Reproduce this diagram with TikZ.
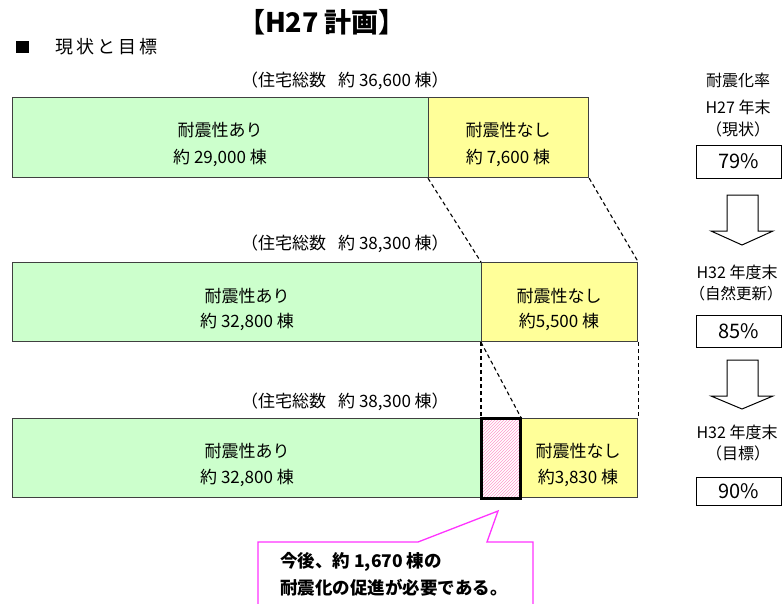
\documentclass[tikz,border=0pt]{standalone}
\usepackage{fontspec}
\setmainfont{Noto Sans CJK JP}
\usetikzlibrary{patterns}
\definecolor{okgreen}{HTML}{CCFFCC}
\definecolor{ngyellow}{HTML}{FFFF99}
\definecolor{callpink}{HTML}{FF33FF}
\begin{document}
\begin{tikzpicture}[x=1pt,y=-1pt,
  bar/.style={draw=black!75, line width=1.2pt, inner sep=0pt, anchor=north west},
  bartxt/.style={font=\fontsize{17}{18}\selectfont, inner sep=0pt},
  lbl/.style={font=\fontsize{17}{18}\selectfont, inner sep=0pt},
  rlbl/.style={font=\fontsize{16}{18}\selectfont, inner sep=0pt},
  pctbox/.style={draw=black, line width=1pt, inner sep=0pt, minimum width=85pt, font=\fontsize{20}{21}\selectfont},
  dline/.style={draw=black, line width=1.1pt, dash pattern=on 4pt off 3pt},
  bigarrow/.style={draw=black, line width=1pt, fill=white}
]
\useasboundingbox (0,0) rectangle (782,603);

% title
\node[font=\fontsize{27}{30}\selectfont\bfseries, inner sep=0pt] (title) at (322,22) {【H27 計画】};
\fill (16,41) rectangle (29,53);
\node[font=\fontsize{18}{19}\selectfont, inner sep=0pt, anchor=west] (sub) at (55,47) {現\kern3pt 状\kern3pt と\kern3pt 目\kern3pt 標};

% totals
\node[lbl] (tot1) at (345,81) {（住宅総数\kern12pt 約 36,600 棟）};
\node[lbl] (tot2) at (345,244) {（住宅総数\kern12pt 約 38,300 棟）};
\node[lbl] (tot3) at (345,402) {（住宅総数\kern12pt 約 38,300 棟）};

% bars
\node[bar, fill=okgreen, minimum width=416pt, minimum height=80pt] (g1) at (12,97) {};
\node[bar, fill=ngyellow, minimum width=160pt, minimum height=80pt] (y1) at (428,97) {};
\node[bar, fill=okgreen, minimum width=469pt, minimum height=79pt] (g2) at (12,262) {};
\node[bar, fill=ngyellow, minimum width=156pt, minimum height=79pt] (y2) at (481,262) {};
\node[bar, fill=okgreen, minimum width=469pt, minimum height=79pt] (g3) at (12,418) {};
\node[bar, fill=ngyellow, minimum width=118pt, minimum height=79pt] (y3) at (519,418) {};
\node[bar, draw=black, line width=2.2pt, fill=pink!15, pattern=north east lines, pattern color=pink!80!magenta, minimum width=38pt, minimum height=79pt] (h3) at (481,418) {};
\draw[black, line width=2.2pt] (h3.north west) rectangle (h3.south east);

% bar texts
\node[bartxt] (g1a) at (220,130) {耐震性あり};
\node[bartxt] (g1b) at (220,158) {約 29,000 棟};
\node[bartxt] (y1a) at (508,130) {耐震性なし};
\node[bartxt] (y1b) at (508,158) {約 7,600 棟};
\node[bartxt] (g2a) at (247,296) {耐震性あり};
\node[bartxt] (g2b) at (247,322) {約 32,800 棟};
\node[bartxt] (y2a) at (559,296) {耐震性なし};
\node[bartxt] (y2b) at (559,322) {約5,500 棟};
\node[bartxt] (g3a) at (247,451) {耐震性あり};
\node[bartxt] (g3b) at (247,478) {約 32,800 棟};
\node[bartxt] (y3a) at (578,451) {耐震性なし};
\node[bartxt] (y3b) at (578,478) {約3,830 棟};

% dashed connectors
\draw[dline] (y1.south west) -- (y2.north west);
\draw[dline] (y1.south east) -- (y2.north east);
\draw[dline] (y2.south west) -- (h3.north west);
\draw[dline] (y2.south west) -- (h3.north east);
\draw[dline] (y2.south east) -- (y3.north east);

% right column
\node[rlbl] (r1) at (738,80) {耐震化率};
\node[rlbl] (r2) at (738,107) {H27 年末};
\node[rlbl] (r3) at (738,129) {（現状）};
\node[pctbox, minimum height=33pt] (p1) at (738.5,161.5) {79\%};
\draw[bigarrow] (727,195) -- (758,195) -- (758,231) -- (773,231) -- (742,245) -- (711,231) -- (727,231) -- cycle;
\node[rlbl] (r4) at (737,272) {H32 年度末};
\node[rlbl, font=\fontsize{15.5}{17}\selectfont] (r5) at (736,294) {（自然更新）};
\node[pctbox, minimum height=32pt] (p2) at (738.5,331) {85\%};
\draw[bigarrow] (727,360) -- (758,360) -- (758,396) -- (773,396) -- (742,409) -- (711,396) -- (727,396) -- cycle;
\node[rlbl] (r6) at (737,432) {H32 年度末};
\node[rlbl] (r7) at (738,453) {（目標）};
\node[pctbox, minimum height=28pt] (p3) at (738.5,491) {90\%};

% callout
\coordinate (tip) at (498,511);
\draw[callpink, line width=1.3pt, fill=white] (258,606) -- (258,542) -- (418,542) -- (tip) -- (487,542) -- (533,542) -- (533,606);
\node[font=\fontsize{17.5}{18}\selectfont\bfseries, inner sep=0pt, anchor=west] (c1) at (280,562) {今後、約 1,670 棟の};
\node[font=\fontsize{17.5}{18}\selectfont\bfseries, inner sep=0pt, anchor=west] (c2) at (280,588) {耐震化の促進が必要である。};
\end{tikzpicture}
\end{document}
